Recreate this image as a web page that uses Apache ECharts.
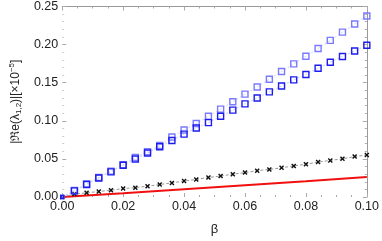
<!DOCTYPE html>
<html><head><meta charset="utf-8">
<script src="https://cdn.jsdelivr.net/npm/echarts@6/dist/echarts.min.js"></script>
<style>html,body{margin:0;padding:0;background:#fff}#c{width:382px;height:241px}</style>
</head><body><div id="c"></div>
<script>
const beta = [0.000,0.004,0.008,0.012,0.016,0.020,0.024,0.028,0.032,0.036,0.040,0.044,0.048,0.052,0.056,0.060,0.064,0.068,0.072,0.076,0.080,0.084,0.088,0.092,0.096,0.100];
const lightBlue = [0.000,0.0085,0.017,0.0255,0.034,0.0425,0.052,0.0594,0.0678,0.0787,0.088,0.0964,0.106,0.1153,0.125,0.135,0.1444,0.1545,0.1646,0.1747,0.1848,0.1949,0.2055,0.2164,0.227,0.2375];
const darkBlue = [0.000,0.008,0.0164,0.0249,0.033,0.0417,0.0499,0.0577,0.066,0.0741,0.0825,0.0906,0.0976,0.106,0.114,0.1222,0.130,0.138,0.1456,0.1537,0.1608,0.1689,0.1768,0.1844,0.1916,0.1992];
const cross = [0.000,0.0038,0.0055,0.0072,0.009,0.011,0.0123,0.0142,0.0164,0.0185,0.021,0.0231,0.0256,0.0275,0.030,0.032,0.0345,0.0362,0.0383,0.0408,0.043,0.0458,0.048,0.0501,0.053,0.0552];
const redX = [0.00,0.02,0.04,0.06,0.08,0.10];
const redY = [0.000,0.0049,0.0101,0.0154,0.0207,0.0261];
const xTicks = ['0.00','0.02','0.04','0.06','0.08','0.10'];
const yTicks = ['0.00','0.05','0.10','0.15','0.20','0.25'];

const pairs = (xs, ys) => xs.map((x, i) => [x, ys[i]]);
const sq = (ys) => pairs(beta, ys).map((p, i) => i === 0 ? {value: p, symbolSize: 3} : p);
const crossPath = 'path://M0,2L2,0L5,3L8,0L10,2L7,5L10,8L8,10L5,7L2,10L0,8L3,5Z';
const font = 'Liberation Sans, Arial, sans-serif';
const tickGray = '#aaa';

const chart = echarts.init(document.getElementById('c'), null, {renderer: 'canvas'});
chart.setOption({
  animation: false,
  backgroundColor: '#fff',
  grid: {left: 50, right: 13, top: 5, bottom: 38, containLabel: false},
  xAxis: [{
    type: 'value', min: 0, max: 0.1, interval: 0.02, position: 'bottom',
    axisLine: {show: false},
    axisTick: {show: true, inside: true, length: 4, lineStyle: {color: tickGray}},
    minorTick: {show: true, splitNumber: 4, length: 2, lineStyle: {color: tickGray}},
    splitLine: {show: false},
    axisLabel: {margin: 3, color: '#222', fontSize: 12.5, fontFamily: font,
      formatter: v => xTicks[Math.round(v / 0.02)]},
    name: 'β', nameLocation: 'middle', nameGap: 26,
    nameTextStyle: {color: '#222', fontSize: 13, fontFamily: font}
  }, {
    type: 'value', min: 0, max: 0.1, interval: 0.02, position: 'top',
    axisLine: {show: true, onZero: false, lineStyle: {color: '#999', width: 1}},
    axisTick: {show: true, inside: true, length: 4, lineStyle: {color: tickGray}},
    minorTick: {show: true, splitNumber: 4, length: 2, lineStyle: {color: tickGray}},
    splitLine: {show: false}, axisLabel: {show: false}
  }],
  yAxis: [{
    type: 'value', min: 0, max: 0.25, interval: 0.05, position: 'left',
    axisLine: {show: false},
    axisTick: {show: true, inside: true, length: 4, lineStyle: {color: tickGray}},
    minorTick: {show: true, splitNumber: 5, length: 2, lineStyle: {color: '#ccc'}},
    splitLine: {show: false},
    axisLabel: {margin: 4, color: '#222', fontSize: 12.5, fontFamily: font,
      formatter: v => yTicks[Math.round(v / 0.05)]},
    name: '|{fr|ℜ}e(λ{sub|1,2})|[×10{sup|−5}]',
    nameLocation: 'middle', nameGap: 32, nameRotate: 90,
    nameTextStyle: {color: '#222', fontSize: 12, fontFamily: font, lineHeight: 15,
      rich: {
        fr: {fontSize: 12, fontFamily: 'DejaVu Serif, serif', color: '#222', lineHeight: 15},
        sub: {fontSize: 8, fontFamily: font, color: '#222', verticalAlign: 'bottom', lineHeight: 15},
        sup: {fontSize: 8, fontFamily: font, color: '#222', verticalAlign: 'top', lineHeight: 15}
      }}
  }, {
    type: 'value', min: 0, max: 0.25, interval: 0.05, position: 'right',
    axisLine: {show: true, onZero: false, lineStyle: {color: '#999', width: 1}},
    axisTick: {show: true, inside: true, length: 4, lineStyle: {color: tickGray}},
    minorTick: {show: true, splitNumber: 5, length: 2, lineStyle: {color: tickGray}},
    splitLine: {show: false}, axisLabel: {show: false}
  }],
  series: [
    {type: 'line', data: pairs(redX, redY), showSymbol: false, symbol: 'none',
      lineStyle: {color: '#f01010', width: 2}, z: 2},
    {type: 'line', data: pairs(beta, cross), symbol: crossPath, symbolSize: 5, showAllSymbol: true, clip: false,
      itemStyle: {color: '#111'}, lineStyle: {color: '#999', width: 1, type: [3, 2]}, z: 3},
    {type: 'line', data: sq(lightBlue), symbol: 'rect', symbolSize: 6, showAllSymbol: true, clip: false,
      itemStyle: {color: 'rgba(255,255,255,0)', borderColor: '#7a7aff', borderWidth: 1.4},
      lineStyle: {color: '#d0d0ff', width: 1, type: [2, 2]}, z: 4},
    {type: 'line', data: sq(darkBlue), symbol: 'rect', symbolSize: 6, showAllSymbol: true, clip: false,
      itemStyle: {color: 'rgba(255,255,255,0)', borderColor: '#1c1cee', borderWidth: 1.4},
      lineStyle: {color: '#c8c8ff', width: 1, type: [2, 2]}, z: 5}
  ]
});
</script></body></html>
